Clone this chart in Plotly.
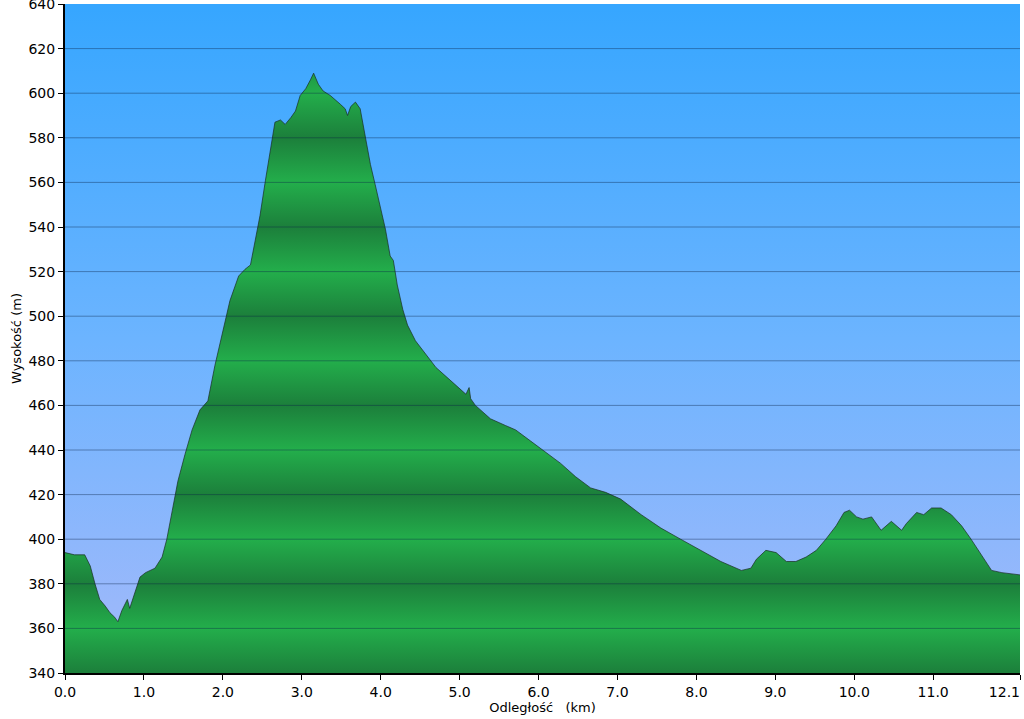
import plotly.graph_objects as go

# elevation profile (distance km, elevation m)
distance_km = [
    0.00, 0.12, 0.25, 0.32, 0.38, 0.44, 0.51, 0.57, 0.63, 0.67, 0.72, 0.79, 0.82, 0.89, 0.95,
    1.02, 1.14, 1.23, 1.29, 1.36, 1.43, 1.52, 1.61, 1.71, 1.81, 1.90, 1.99, 2.09, 2.20, 2.28,
    2.35, 2.41, 2.47, 2.54, 2.60, 2.66, 2.73, 2.79, 2.86, 2.92, 2.98, 3.05, 3.11, 3.15, 3.21,
    3.27, 3.36, 3.43, 3.49, 3.55, 3.58, 3.62, 3.68, 3.74, 3.81, 3.87, 3.93, 4.00, 4.06, 4.12, 4.16,
    4.21, 4.28, 4.34, 4.44, 4.57, 4.70, 4.89, 5.08, 5.12, 5.14, 5.20, 5.39, 5.58, 5.71, 5.90, 6.09, 6.28,
    6.47, 6.66, 6.85, 7.04, 7.30, 7.55, 7.80, 8.06, 8.31, 8.57, 8.69, 8.76, 8.88, 9.01, 9.14,
    9.26, 9.39, 9.52, 9.64, 9.77, 9.87, 9.94, 10.03, 10.11, 10.22, 10.34, 10.47, 10.60, 10.66,
    10.79, 10.88, 10.98, 11.10, 11.23, 11.36, 11.48, 11.61, 11.74, 11.87, 12.10,
]
elevation_m = [
    394, 393, 393, 388, 380, 373, 370, 367, 365, 363, 368, 373, 369, 376, 383,
    385, 387, 392, 400, 413, 426, 438, 449, 458, 462, 478, 492, 507, 518, 521,
    523, 534, 545, 561, 574, 587, 588, 586, 589, 592, 599, 602, 606, 609, 604,
    601, 599, 597, 595, 593, 590, 594, 596, 593, 579, 568, 559, 548, 539, 527, 525,
    514, 503, 496, 489, 483, 477, 471, 465, 468, 463, 460, 454, 451, 449, 444, 439, 434,
    428, 423, 421, 418, 411, 405, 400, 395, 390, 386, 387, 391, 395, 394, 390,
    390, 392, 395, 400, 406, 412, 413, 410, 409, 410, 404, 408, 404, 407,
    412, 411, 414, 414, 411, 406, 400, 393, 386, 385, 384,
]

x_ticks = [0, 1, 2, 3, 4, 5, 6, 7, 8, 9, 10, 11, 12.1]
x_tick_text = ["0.0", "1.0", "2.0", "3.0", "4.0", "5.0", "6.0", "7.0", "8.0", "9.0", "10.0", "11.0",
               "12.1" + "\u00a0" * 7]  # padded so the last label stays inside the page
y_ticks = list(range(340, 641, 20))

X_RANGE = [0, 12.1]
Y_RANGE = [340, 640]

FONT = dict(family="DejaVu Sans, Verdana, sans-serif", size=14, color="#000000")
GREEN_DARK = "#1c7f3b"
GREEN_LIGHT = "#23ae4b"

# striped green: dark at 340+40k, light at 360+40k
green_scale = []
for i, v in enumerate(y_ticks):
    pos = (v - Y_RANGE[0]) / (Y_RANGE[1] - Y_RANGE[0])
    green_scale.append([pos, GREEN_DARK if i % 2 == 0 else GREEN_LIGHT])

fig = go.Figure()

# sky background
fig.add_trace(go.Scatter(
    x=[X_RANGE[0], X_RANGE[1], X_RANGE[1], X_RANGE[0]],
    y=[Y_RANGE[0], Y_RANGE[0], Y_RANGE[1], Y_RANGE[1]],
    fill="toself",
    mode="none",
    fillgradient=dict(type="vertical", start=Y_RANGE[0], stop=Y_RANGE[1],
                      colorscale=[[0, "#a4b9fa"], [0.5, "#6cb4ff"], [1, "#36a6ff"]]),
    hoverinfo="skip",
    showlegend=False,
))

fig.add_trace(go.Scatter(
    x=distance_km,
    y=elevation_m,
    mode="lines",
    fill="tozeroy",
    line=dict(color="rgba(25,45,35,0.7)", width=1),
    fillgradient=dict(type="vertical", start=Y_RANGE[0], stop=Y_RANGE[1], colorscale=green_scale),
    showlegend=False,
))

# grid lines drawn over the fill
for v in y_ticks[1:-1]:
    fig.add_shape(type="line", xref="paper", x0=0, x1=1, yref="y", y0=v, y1=v,
                  line=dict(color="rgba(10,35,70,0.4)", width=1), layer="above")

fig.update_layout(
    width=1024, height=719,
    paper_bgcolor="white",
    plot_bgcolor="white",
    font=FONT,
    margin=dict(l=65, r=4, t=4, b=46),
    showlegend=False,
)
fig.update_xaxes(
    range=X_RANGE, tickvals=x_ticks, ticktext=x_tick_text,
    showgrid=False, zeroline=False, automargin=False, ticklabeloverflow="allow",
    showline=True, linecolor="black", linewidth=2,
    ticks="outside", ticklen=5, tickcolor="black",
    title=dict(text="Odległość\u00a0\u00a0\u00a0(km)", font=dict(size=13), standoff=2),
)
fig.update_yaxes(
    range=Y_RANGE, tickvals=y_ticks,
    showgrid=False, zeroline=False, automargin=False, ticklabeloverflow="allow",
    showline=True, linecolor="black", linewidth=2,
    ticks="outside", ticklen=5, tickcolor="black",
    title=dict(text="Wysokość (m)", font=dict(size=13), standoff=4),
)

# drop the default page margin so the figure sits at the window's corner
fig.write_html("out.html", config={"displayModeBar": False},
               post_script="document.body.style.margin='0px';")
